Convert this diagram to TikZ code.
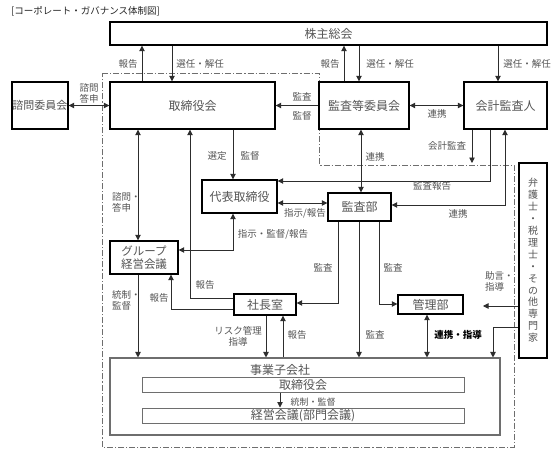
\documentclass[tikz,border=0pt]{standalone}
\usepackage{fontspec}
\newfontfamily\jp{Noto Sans CJK JP}
\usetikzlibrary{arrows.meta}
\definecolor{txt}{RGB}{85,85,85}
\definecolor{ln}{RGB}{45,45,45}
\definecolor{bd}{RGB}{110,110,110}
\begin{document}
\begin{tikzpicture}[x=1pt,y=-1pt,
  box/.style={draw=black, line width=1.4pt, inner sep=0pt, text=txt, font=\jp\fontsize{12}{14}\selectfont, align=center},
  ibox/.style={draw=bd, line width=1pt, inner sep=0pt, text=txt, font=\jp\fontsize{12}{14}\selectfont, align=center},
  lbl/.style={text=txt, inner sep=0pt, font=\jp\fontsize{9.5}{11}\selectfont, align=center},
  tip/.style={Triangle[length=5.5pt,width=5.5pt]},
  arr/.style={draw=ln, line width=0.8pt, -{Triangle[length=5.5pt,width=5.5pt]}},
  darr/.style={draw=ln, line width=0.8pt, {Triangle[length=5.5pt,width=5.5pt]}-{Triangle[length=5.5pt,width=5.5pt]}},
  bnd/.style={draw=bd, line width=0.8pt, dash pattern=on 6pt off 2pt on 1.2pt off 2pt},
]
\useasboundingbox (0,0) rectangle (555,458);
\fill[white] (0,0) rectangle (555,458);

% title
\node[anchor=west, inner sep=0pt, text=black!85, font=\jp\fontsize{9.5}{11}\selectfont] (title) at (11,11) {[コーポレート・ガバナンス体制図]};

% boundary
\draw[bnd] (102,73) -- (319,73) -- (319,165) -- (514,165) -- (514,447) -- (102,447) -- cycle;

% boxes
\node[box, minimum width=437pt, minimum height=23pt] (sh) at (328.5,33.5) {株主総会};
\node[box, minimum width=56pt, minimum height=47pt, font=\jp\fontsize{11}{13}\selectfont] (adv) at (40,105.5) {諮問委員会};
\node[box, minimum width=165pt, minimum height=47pt] (bod) at (192.5,105.5) {取締役会};
\node[box, minimum width=90pt, minimum height=47pt] (acm) at (364,105.5) {監査等委員会};
\node[box, minimum width=83pt, minimum height=47pt] (aud) at (505.5,105.5) {会計監査人};
\node[box, minimum width=75pt, minimum height=33pt] (ceo) at (239.5,196.5) {代表取締役};
\node[box, minimum width=63pt, minimum height=28pt] (iad) at (359.5,207) {監査部};
\node[box, minimum width=68pt, minimum height=33pt, font=\jp\fontsize{11.5}{13.5}\selectfont] (grp) at (144,257.5) {グループ\\経営会議};
\node[box, minimum width=62pt, minimum height=21pt] (pres) at (265,304.5) {社長室};
\node[box, minimum width=65pt, minimum height=19pt] (adm) at (430.5,304.5) {管理部};
\node[box, minimum width=28pt, minimum height=195pt, font=\jp\fontsize{10}{11.9}\selectfont] (exp) at (533,260.5) {弁\\護\\士\\・\\税\\理\\士\\・\\そ\\の\\他\\専\\門\\家};
\node[ibox, line width=1.1pt, minimum width=390pt, minimum height=77pt] (sub) at (305,396.5) {};
\node[lbl, font=\jp\fontsize{12}{14}\selectfont] (subt) at (280,370) {事業子会社};
\node[ibox, minimum width=322pt, minimum height=15pt] (sbod) at (303,384.5) {取締役会};
\node[ibox, minimum width=322pt, minimum height=15pt] (smc) at (303,415.5) {経営会議(部門会議)};

% connectors
\draw[arr] (142,0 |- bod.north) -- (142,0 |- sh.south);
\draw[arr] (172,0 |- sh.south) -- (172,0 |- bod.north);
\draw[arr] (344,0 |- acm.north) -- (344,0 |- sh.south);
\draw[arr] (359,0 |- sh.south) -- (359,0 |- acm.north);
\draw[arr] (498,0 |- sh.south) -- (498,0 |- aud.north);
\draw[darr] (adv.east) -- (bod.west);
\draw[arr] (acm.west) -- (bod.east);
\draw[darr] (acm.east) -- (aud.west);
\draw[arr] (233,0 |- bod.south) -- (233,0 |- ceo.north);
\draw[darr] (138,0 |- bod.south) -- (138,0 |- grp.north);
\draw[arr] (pres.west |- 0,298) -- (190,298) -- (190,0 |- bod.south);
\draw[arr] (pres.west |- 0,309) -| (171,0 |- grp.south);
\draw[darr] (grp.east |- 0,250) -| (233,0 |- ceo.south);
\draw[darr] (ceo.east |- 0,203) -- (iad.west |- 0,203);
\draw[darr] (361,0 |- acm.south) -- (361,0 |- iad.north);
\coordinate (caend) at (472,163);
\draw[arr] (472,0 |- aud.south) -- (caend);
\draw[arr] (490,0 |- aud.south) |- (ceo.east |- 0,181);
\draw[darr] (iad.east |- 0,205) -| (505,0 |- aud.south);
\draw[arr] (338,0 |- iad.south) |- (pres.east |- 0,303);
\draw[arr] (359,0 |- iad.south) -- (359,0 |- sub.north);
\draw[arr] (379,0 |- iad.south) |- (adm.west |- 0,304);
\draw[darr] (427,0 |- adm.south) -- (427,0 |- sub.north);
\coordinate (advend) at (483,306);
\draw[arr] (exp.west |- 0,306) -- (advend);
\draw[arr] (exp.west |- 0,327) -| (493,0 |- sub.north);
\draw[arr] (138,0 |- grp.south) -- (138,0 |- sub.north);
\draw[arr] (266,0 |- pres.south) -- (266,0 |- sub.north);
\draw[arr] (283,0 |- sub.north) -- (283,0 |- pres.south);
\draw[arr] (280,0 |- sbod.south) -- (280,0 |- smc.north);

% labels
\node[lbl] (l1) at (128,64) {報告};
\node[lbl] (l2) at (200,64) {選任・解任};
\node[lbl] (l3) at (330,64) {報告};
\node[lbl] (l4) at (390,64) {選任・解任};
\node[lbl] (l5) at (527,64) {選任・解任};
\node[lbl] (l6) at (89,93) {諮問\\答申};
\node[lbl] (l7) at (302,97) {監査};
\node[lbl] (l8) at (302,116) {監督};
\node[lbl] (l9) at (437,114) {連携};
\node[lbl] (l10) at (447,146) {会計監査};
\node[lbl] (l11) at (375,157) {連携};
\node[lbl] (l12) at (217,156) {選定};
\node[lbl] (l13) at (250,156) {監督};
\node[lbl] (l14) at (432,186) {監査報告};
\node[lbl] (l15) at (458,214) {連携};
\node[lbl] (l16) at (305,213) {指示/報告};
\node[lbl, anchor=west, align=left] (l17) at (112,202.5) {諮問・\\答申};
\node[lbl] (l18) at (273,234) {指示・監督/報告};
\node[lbl] (l19) at (205,285) {報告};
\node[lbl] (l20) at (323,268) {監査};
\node[lbl] (l21) at (393,268) {監査};
\node[lbl, anchor=west, align=left] (l22) at (485,281.5) {助言・\\指導};
\node[lbl] (l23) at (159,298) {報告};
\node[lbl, anchor=west, align=left] (l24) at (112,300.5) {統制・\\監督};
\node[lbl] (l25) at (238,336.5) {リスク管理\\指導};
\node[lbl] (l26) at (297,335) {報告};
\node[lbl] (l27) at (375,335) {監査};
\node[lbl, text=black, font=\jp\bfseries\fontsize{9.5}{11}\selectfont] (l28) at (458,335) {連携・指導};
\node[lbl, font=\jp\fontsize{9}{10}\selectfont] (l29) at (313,402) {統制・監督};
\end{tikzpicture}
\end{document}
